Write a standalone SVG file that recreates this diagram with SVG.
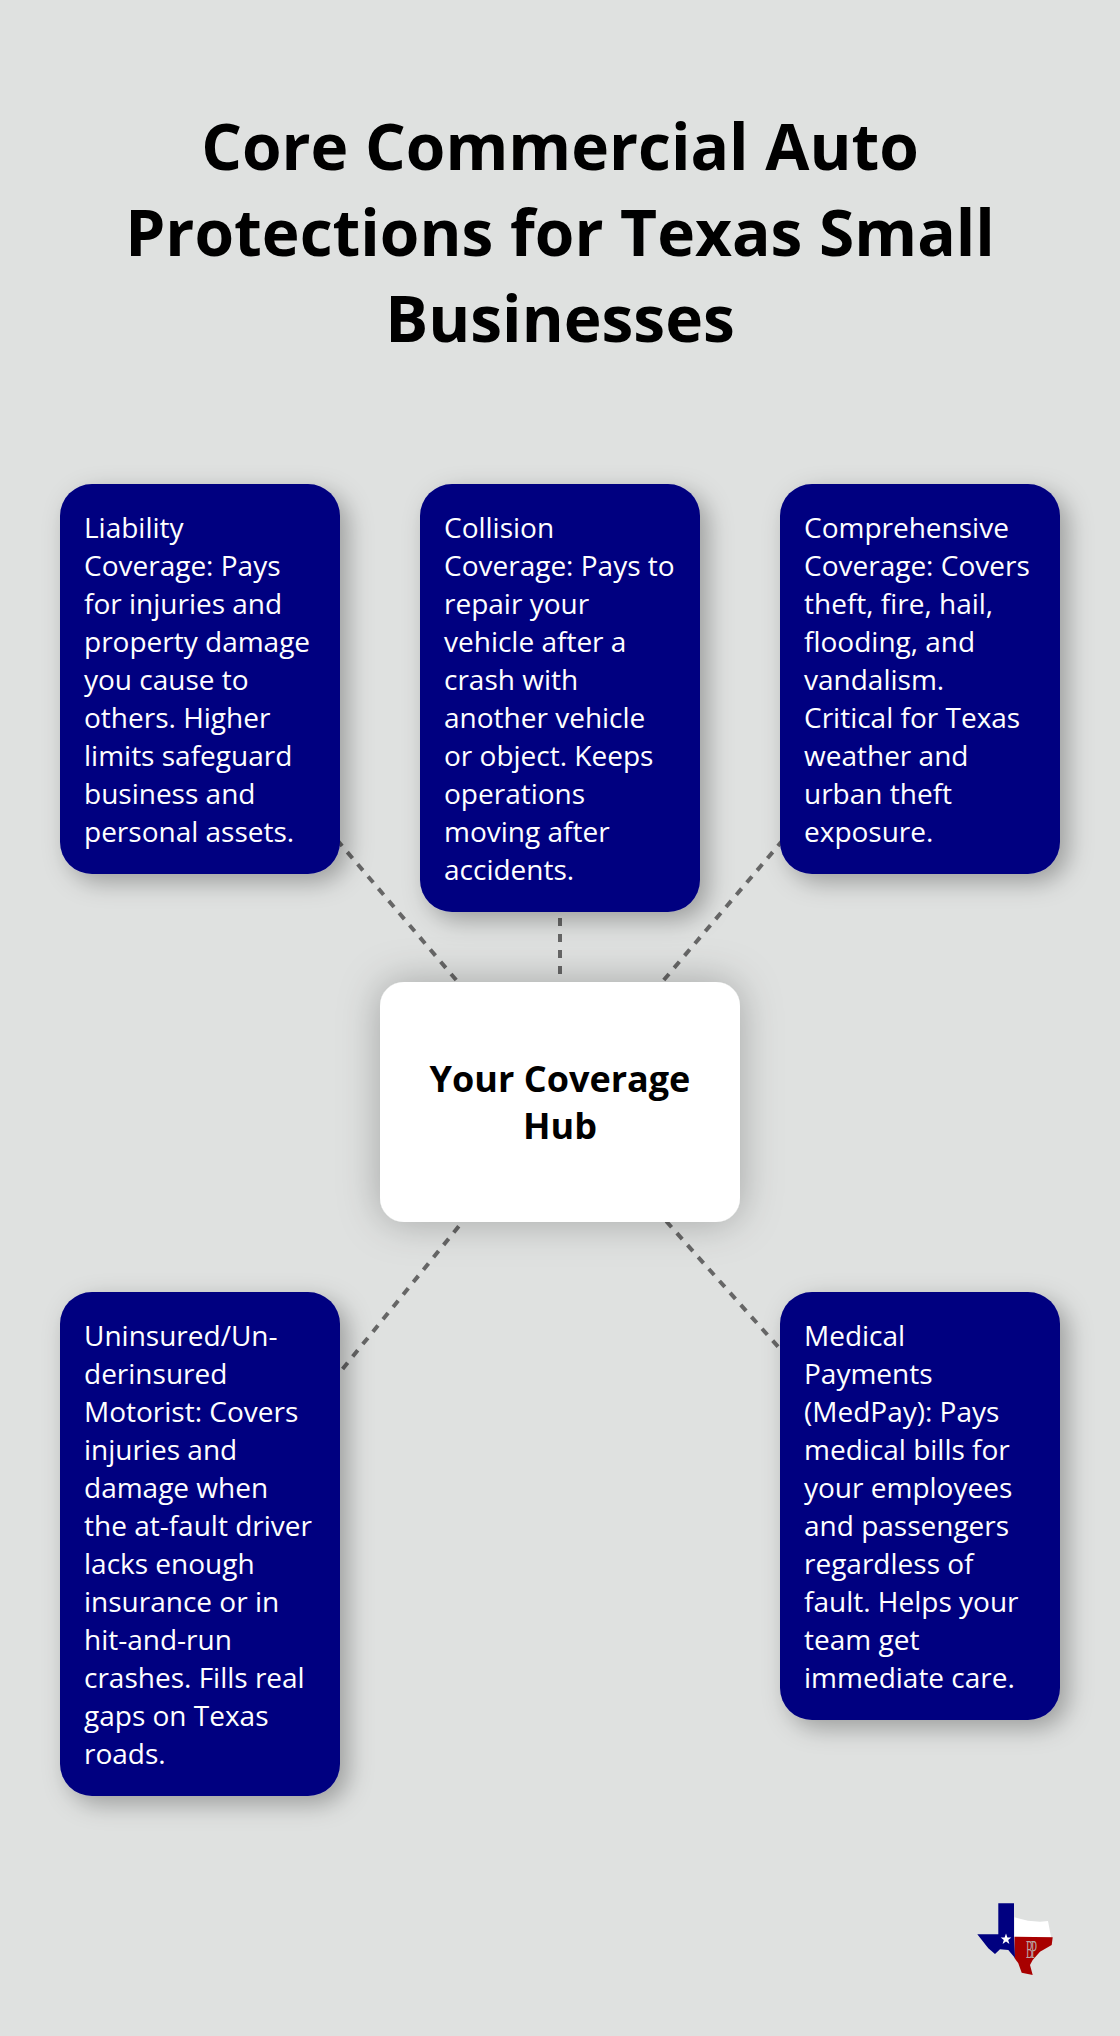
<svg xmlns="http://www.w3.org/2000/svg" width="1120" height="2036" viewBox="0 0 1120 2036">
<style>
.bg{fill:#dfe1e0}
.card{fill:#000080;filter:url(#s)}
.hub{fill:#fff;filter:url(#h)}
.c{stroke:#666;stroke-width:4;stroke-dasharray:8 8;fill:none}
text{font-family:"Open Sans","Noto Sans",sans-serif}
.t{font-size:28px;fill:#fff}
.title{font-size:64px;font-weight:700;fill:#000;text-anchor:middle}
.hubt{font-size:36px;font-weight:700;fill:#000;text-anchor:middle}
.m{font-family:"Liberation Serif",serif;font-size:25px;fill:#b9a6a6}
</style>
<defs>
<filter id="s" x="-25%" y="-25%" width="150%" height="150%"><feDropShadow dx="8" dy="8" stdDeviation="12" flood-color="#000" flood-opacity=".3"/></filter>
<filter id="h" x="-30%" y="-40%" width="160%" height="180%"><feDropShadow dx="0" dy="0" stdDeviation="20" flood-color="#000" flood-opacity=".27"/></filter>
</defs>
<rect class="bg" width="1120" height="2036"/>
<g id="title"><text class="title" x="560" y="170">Core Commercial Auto</text><text class="title" x="560" y="256">Protections for Texas Small</text><text class="title" x="560" y="342">Businesses</text></g>
<g id="connectors">
<line class="c" x1="200" y1="679" x2="560" y2="1102" stroke-dashoffset="-3.3"/>
<line class="c" x1="560" y1="698" x2="560" y2="1102" stroke-dashoffset="-12"/>
<line class="c" x1="920" y1="679" x2="560" y2="1102" stroke-dashoffset="-3.3"/>
<line class="c" x1="200" y1="1544" x2="560" y2="1102" stroke-dashoffset="-1.8"/>
<line class="c" x1="920" y1="1506" x2="560" y2="1102" stroke-dashoffset="-5.4"/>
</g>
<g id="hub"><rect class="hub" x="380" y="982" width="360" height="240" rx="24"/><text class="hubt"><tspan x="560" y="1092">Your Coverage</tspan><tspan x="560" y="1139">Hub</tspan></text></g>
<g id="card-liability"><rect class="card" x="60" y="484" width="280" height="390" rx="32"/><text class="t"><tspan x="84" y="538">Liability</tspan><tspan x="84" y="576">Coverage: Pays</tspan><tspan x="84" y="614">for injuries and</tspan><tspan x="84" y="652">property damage</tspan><tspan x="84" y="690">you cause to</tspan><tspan x="84" y="728">others. Higher</tspan><tspan x="84" y="766">limits safeguard</tspan><tspan x="84" y="804">business and</tspan><tspan x="84" y="842">personal assets.</tspan></text></g>
<g id="card-collision"><rect class="card" x="420" y="484" width="280" height="428" rx="32"/><text class="t"><tspan x="444" y="538">Collision</tspan><tspan x="444" y="576">Coverage: Pays to</tspan><tspan x="444" y="614">repair your</tspan><tspan x="444" y="652">vehicle after a</tspan><tspan x="444" y="690">crash with</tspan><tspan x="444" y="728">another vehicle</tspan><tspan x="444" y="766">or object. Keeps</tspan><tspan x="444" y="804">operations</tspan><tspan x="444" y="842">moving after</tspan><tspan x="444" y="880">accidents.</tspan></text></g>
<g id="card-comprehensive"><rect class="card" x="780" y="484" width="280" height="390" rx="32"/><text class="t"><tspan x="804" y="538">Comprehensive</tspan><tspan x="804" y="576">Coverage: Covers</tspan><tspan x="804" y="614">theft, fire, hail,</tspan><tspan x="804" y="652">flooding, and</tspan><tspan x="804" y="690">vandalism.</tspan><tspan x="804" y="728">Critical for Texas</tspan><tspan x="804" y="766">weather and</tspan><tspan x="804" y="804">urban theft</tspan><tspan x="804" y="842">exposure.</tspan></text></g>
<g id="card-uninsured"><rect class="card" x="60" y="1292" width="280" height="504" rx="32"/><text class="t"><tspan x="84" y="1346">Uninsured/Un-</tspan><tspan x="84" y="1384">derinsured</tspan><tspan x="84" y="1422">Motorist: Covers</tspan><tspan x="84" y="1460">injuries and</tspan><tspan x="84" y="1498">damage when</tspan><tspan x="84" y="1536">the at-fault driver</tspan><tspan x="84" y="1574">lacks enough</tspan><tspan x="84" y="1612">insurance or in</tspan><tspan x="84" y="1650">hit-and-run</tspan><tspan x="84" y="1688">crashes. Fills real</tspan><tspan x="84" y="1726">gaps on Texas</tspan><tspan x="84" y="1764">roads.</tspan></text></g>
<g id="card-medpay"><rect class="card" x="780" y="1292" width="280" height="428" rx="32"/><text class="t"><tspan x="804" y="1346">Medical</tspan><tspan x="804" y="1384">Payments</tspan><tspan x="804" y="1422">(MedPay): Pays</tspan><tspan x="804" y="1460">medical bills for</tspan><tspan x="804" y="1498">your employees</tspan><tspan x="804" y="1536">and passengers</tspan><tspan x="804" y="1574">regardless of</tspan><tspan x="804" y="1612">fault. Helps your</tspan><tspan x="804" y="1650">team get</tspan><tspan x="804" y="1688">immediate care.</tspan></text></g>
<g id="logo">
<path fill="#fff" d="M1014.5 1917.3 L1028 1920.7 1040 1921.7 1048 1921 1051 1937 1014.5 1937z"/>
<path fill="#a80000" d="M1014.5 1936.7 L1052.7 1937.3 1051.7 1945 1040 1951.7 1032.7 1960 1030 1965 1032.7 1975 1021.7 1972.7 1018.3 1963.3 1014.5 1958z"/>
<path fill="#000080" d="M998.3 1903.3 H1014 V1937 L1015 1958 1008.3 1950 1000 1949.3 995 1954 988.3 1948.3 977.3 1934.3 H998.3z"/>
<polygon fill="#fff" points="1006,1933.5 1007.4,1937.4 1011.3,1937.4 1008.2,1940 1009.4,1944 1006,1941.6 1002.6,1944 1003.8,1940 1000.7,1937.4 1004.6,1937.4"/>
<text class="m" x="1026" y="1958" textLength="7" lengthAdjust="spacingAndGlyphs">B</text><text class="m" x="1031" y="1958" textLength="6" lengthAdjust="spacingAndGlyphs">P</text>
</g>
</svg>
